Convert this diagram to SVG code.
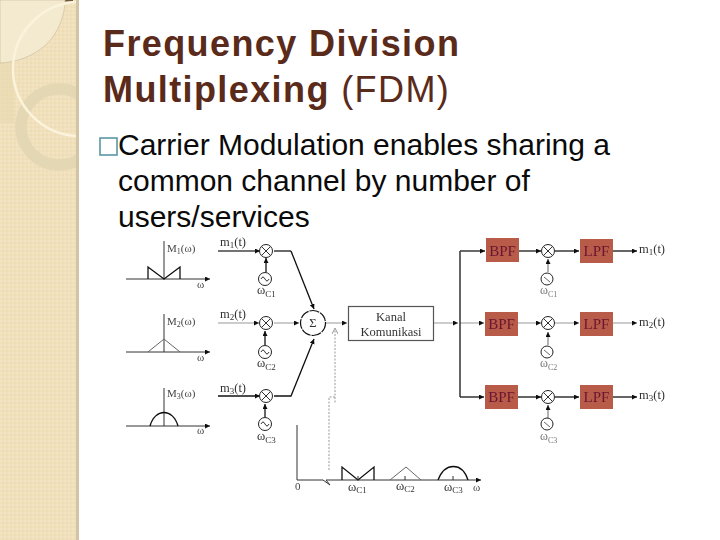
<svg xmlns="http://www.w3.org/2000/svg" width="720" height="540" viewBox="0 0 720 540">
<style>
.t{font-family:"Liberation Sans",Arial,sans-serif;fill:#5a2a1a;font-size:36px;letter-spacing:1.4px}
.b{font-family:"Liberation Sans",Arial,sans-serif;fill:#0a0a0a;font-size:30px}
.s{font-family:"Liberation Serif","Times New Roman",serif;fill:#444;font-size:11px}
.m{font-family:"Liberation Serif","Times New Roman",serif;fill:#333;font-size:12.5px}
.r{font-family:"Liberation Serif","Times New Roman",serif;fill:#777;font-size:12px}
.f{font-family:"Liberation Serif","Times New Roman",serif;fill:#6b1530;font-size:15px}
.l{fill:none;stroke:#333;stroke-width:1}
.g{fill:none;stroke:#999;stroke-width:1}
.n{fill:none;stroke:#666;stroke-width:1}
.h{fill:none;stroke:#444;stroke-width:1.6}
.k{fill:none;stroke:#111;stroke-width:1.3}
.c{fill:#fff;stroke:#222;stroke-width:1}
.fb{fill:#b85c48}
</style>
<defs>
<marker id="a" markerWidth="6" markerHeight="6" refX="5" refY="2.500" orient="auto" markerUnits="userSpaceOnUse"><path d="M0 0L5 2.500L0 5z" fill="#111"/></marker>
<marker id="d" markerWidth="7" markerHeight="6" refX="5" refY="3" orient="auto" markerUnits="userSpaceOnUse"><path d="M0 0L6 3L0 6" fill="none" stroke="#999"/></marker>
<pattern id="p" width="4" height="4" patternUnits="userSpaceOnUse"><rect width="4" height="4" fill="#f0e0bb"/><rect width="2" height="2" fill="#f2e4c3"/><rect x="2" y="2" width="2" height="2" fill="#eedcb5"/></pattern>
<clipPath id="sb"><rect width="76" height="540"/></clipPath>
<filter id="soft" x="-5%" y="-5%" width="110%" height="110%"><feGaussianBlur stdDeviation="0.35"/></filter>
</defs>
<rect width="720" height="540" fill="#fff"/>
<g id="sidebar">
<rect width="76" height="540" fill="url(#p)"/>
<rect x="76" width="3" height="540" fill="#d3c5a3"/>
<rect x="65" width="8" height="1.500" fill="#6b5a3a"/>
<g clip-path="url(#sb)">
<rect y="63" width="14" height="60" fill="#e8d8b0" opacity=".6"/>
<path d="M0 63C24 62 43 50 52 38C60 27 65 14 65 0H0z" fill="#f4ead0" stroke="#c8b998" stroke-width=".6"/>
<circle cx="59" cy="127" r="38" fill="none" stroke="#e4d7b4" stroke-width="11.500"/>
<circle cx="80" cy="69" r="67" fill="none" stroke="#fbf3dc" stroke-width="2.500"/>
</g>
</g>
<g id="title">
<text class="t" x="103" y="56" font-weight="bold">Frequency Division</text>
<text class="t" x="103" y="102"><tspan font-weight="bold">Multiplexing</tspan> (FDM)</text>
</g>
<g id="body">
<rect x="100" y="138" width="17" height="17" fill="none" stroke="#5b97a5" stroke-width="1.600"/>
<text class="b" x="118" y="155">Carrier Modulation enables sharing a</text>
<text class="b" x="118" y="191">common channel by number of</text>
<text class="b" x="118" y="227">users/services</text>
</g>
<g id="diagram" filter="url(#soft)">
<g id="connectors">
<path class="l" d="M126 279H210" marker-end="url(#a)"/><path class="l" d="M164 241V279"/>
<path class="k" d="M148 279V267L164 279L180 267V279"/>
<path class="l" d="M126 352H210" marker-end="url(#a)"/><path class="l" d="M164 314V352"/>
<path class="n" d="M148 352L164 339L180 352"/>
<path class="l" d="M126 426H210" marker-end="url(#a)"/><path class="l" d="M164 388V426"/>
<path class="k" d="M150 426C155 408 173 408 178 426"/>
<path class="h" d="M218 251H260" marker-end="url(#a)"/>
<path class="g" d="M218 323H259" marker-end="url(#a)"/>
<path class="k" d="M218 396H260" marker-end="url(#a)"/>
<path class="h" d="M274 251H291"/><path class="k" d="M291 251L314 309" marker-end="url(#a)"/>
<path class="g" d="M274 323H299" marker-end="url(#a)"/>
<path class="k" d="M274 396H291L314 339" marker-end="url(#a)"/>
<path class="k" d="M266 272V258" marker-end="url(#a)"/>
<path class="k" d="M265 345V331" marker-end="url(#a)"/>
<path class="k" d="M265 417V404" marker-end="url(#a)"/>
<path class="g" d="M326 323H347" marker-end="url(#a)"/>
<path class="g" d="M434 323H458" marker-end="url(#a)"/>
<path class="g" d="M460 323H484" marker-end="url(#a)"/>
<path class="k" d="M460 251V397"/>
<path class="h" d="M460 251H485" marker-end="url(#a)"/>
<path class="k" d="M460 397H484" marker-end="url(#a)"/>
<path class="h" d="M519 251H541" marker-end="url(#a)"/>
<path class="g" d="M518 323H541" marker-end="url(#a)"/>
<path class="k" d="M518 397H541" marker-end="url(#a)"/>
<path class="h" d="M555 251H579" marker-end="url(#a)"/>
<path class="g" d="M555 323H579" marker-end="url(#a)"/>
<path class="k" d="M555 397H579" marker-end="url(#a)"/>
<path class="k" d="M613 251H637" marker-end="url(#a)"/>
<path class="g" d="M613 323H637" marker-end="url(#a)"/>
<path class="k" d="M613 397H637" marker-end="url(#a)"/>
<path class="n" d="M548 272V259" marker-end="url(#a)"/>
<path class="n" d="M548 345V332" marker-end="url(#a)"/>
<path class="n" d="M548 418V405" marker-end="url(#a)"/>
<path class="g" stroke-dasharray="2 1.500" d="M329 470V397H335V329" marker-end="url(#d)"/>
<path class="g" stroke-dasharray="2 1.500" d="M335 397V403"/>
<path class="l" d="M297 425V480H323L330 485L326 480H481" marker-end="url(#a)"/>
<path class="k" d="M342 480V467L358 480L374 467V480"/>
<path class="n" d="M390 480L406 467L421 480"/>
<path class="k" d="M438 480C445 462 462 462 468 480"/>
<path class="l" d="M358 480V476M405 480V476M453 480V476"/>
</g>
<g id="spectrum-labels">
<text class="s" x="167" y="252">M<tspan font-size="8" dy="2">1</tspan><tspan dy="-2">(ω)</tspan></text>
<text class="s" x="167" y="325">M<tspan font-size="8" dy="2">2</tspan><tspan dy="-2">(ω)</tspan></text>
<text class="s" x="167" y="397">M<tspan font-size="8" dy="2">3</tspan><tspan dy="-2">(ω)</tspan></text>
<text class="s" x="197" y="288">ω</text><text class="s" x="197" y="361">ω</text><text class="s" x="197" y="434">ω</text>
<text class="m" x="220" y="246">m<tspan font-size="9" dy="2">1</tspan><tspan dy="-2">(t)</tspan></text>
<text class="m" x="220" y="318">m<tspan font-size="9" dy="2">2</tspan><tspan dy="-2">(t)</tspan></text>
<text class="m" x="220" y="392">m<tspan font-size="9" dy="2">3</tspan><tspan dy="-2">(t)</tspan></text>
<text class="m" x="257" y="294">ω<tspan font-size="9" dy="3">C1</tspan></text>
<text class="m" x="257" y="367">ω<tspan font-size="9" dy="3">C2</tspan></text>
<text class="m" x="257" y="440">ω<tspan font-size="9" dy="3">C3</tspan></text>
<text class="r" x="540" y="294">ω<tspan font-size="8" dy="3">C1</tspan></text>
<text class="r" x="540" y="367">ω<tspan font-size="8" dy="3">C2</tspan></text>
<text class="r" x="540" y="440">ω<tspan font-size="8" dy="3">C3</tspan></text>
<text class="m" x="639" y="253">m<tspan font-size="9" dy="2">1</tspan><tspan dy="-2">(t)</tspan></text>
<text class="m" x="639" y="326">m<tspan font-size="9" dy="2">2</tspan><tspan dy="-2">(t)</tspan></text>
<text class="m" x="639" y="399">m<tspan font-size="9" dy="2">3</tspan><tspan dy="-2">(t)</tspan></text>
<text class="s" x="295" y="490">0</text>
<text class="m" x="348" y="491">ω<tspan font-size="9" dy="2">C1</tspan></text>
<text class="m" x="396" y="490">ω<tspan font-size="9" dy="2">C2</tspan></text>
<text class="m" x="444" y="491">ω<tspan font-size="9" dy="2">C3</tspan></text>
<text class="s" x="473" y="491">ω</text>
</g>
<g id="mixers">
<g id="mix1"><circle class="c" cx="266" cy="251" r="6.500"/><path class="l" d="M261.500 246.500l9 9m0-9l-9 9"/></g>
<g id="mix2"><circle class="c" cx="266" cy="323" r="6.500"/><path class="l" d="M261.500 318.500l9 9m0-9l-9 9"/></g>
<g id="mix3"><circle class="c" cx="266" cy="396" r="6.500"/><path class="l" d="M261.500 391.500l9 9m0-9l-9 9"/></g>
<g id="mix4"><circle class="c" cx="548" cy="251" r="6.500"/><path class="l" d="M543.500 246.500l9 9m0-9l-9 9"/></g>
<g id="mix5"><circle class="c" cx="548" cy="323" r="6.500"/><path class="l" d="M543.500 318.500l9 9m0-9l-9 9"/></g>
<g id="mix6"><circle class="c" cx="548" cy="397" r="6.500"/><path class="l" d="M543.500 392.500l9 9m0-9l-9 9"/></g>
</g>
<g id="oscillators">
<g id="osc1"><circle class="c" cx="265" cy="279" r="6.500"/><path class="l" d="M261 279q2-4 4 0t4 0"/></g>
<g id="osc2"><circle class="c" cx="265" cy="352" r="6.500"/><path class="l" d="M261 352q2-4 4 0t4 0"/></g>
<g id="osc3"><circle class="c" cx="265" cy="424" r="6.500"/><path class="l" d="M261 424q2-4 4 0t4 0"/></g>
<g id="osc4"><circle class="c" cx="547" cy="279" r="6"/><path class="n" d="M544 277l6 5"/></g>
<g id="osc5"><circle class="c" cx="547" cy="352" r="6"/><path class="n" d="M544 350l6 5"/></g>
<g id="osc6"><circle class="c" cx="547" cy="424" r="6"/><path class="n" d="M544 422l6 5"/></g>
</g>
<g id="sum"><circle cx="313" cy="323" r="12.500" fill="#fff" stroke="#111" stroke-width="1.200" stroke-dasharray="10 1"/><text class="m" x="313" y="327" text-anchor="middle">Σ</text></g>
<g id="kanal"><rect x="348.500" y="306.500" width="85" height="34" fill="#fff" stroke="#555" stroke-width="1.200"/>
<text class="m" x="391" y="321" text-anchor="middle">Kanal</text><text class="m" x="391" y="336" text-anchor="middle">Komunikasi</text></g>
<g id="filters">
<g id="bpf1"><rect class="fb" x="486" y="238" width="33" height="24"/><text class="f" x="502.500" y="256" text-anchor="middle">BPF</text></g>
<g id="bpf2"><rect class="fb" x="485" y="312" width="33" height="24"/><text class="f" x="501.500" y="329" text-anchor="middle">BPF</text></g>
<g id="bpf3"><rect class="fb" x="485" y="385" width="33" height="24"/><text class="f" x="501.500" y="402" text-anchor="middle">BPF</text></g>
<g id="lpf1"><rect class="fb" x="580" y="239" width="33" height="24"/><text class="f" x="596.500" y="256" text-anchor="middle">LPF</text></g>
<g id="lpf2"><rect class="fb" x="580" y="312" width="33" height="24"/><text class="f" x="596.500" y="329" text-anchor="middle">LPF</text></g>
<g id="lpf3"><rect class="fb" x="580" y="385" width="33" height="24"/><text class="f" x="596.500" y="402" text-anchor="middle">LPF</text></g>
</g>
</g>
</svg>
